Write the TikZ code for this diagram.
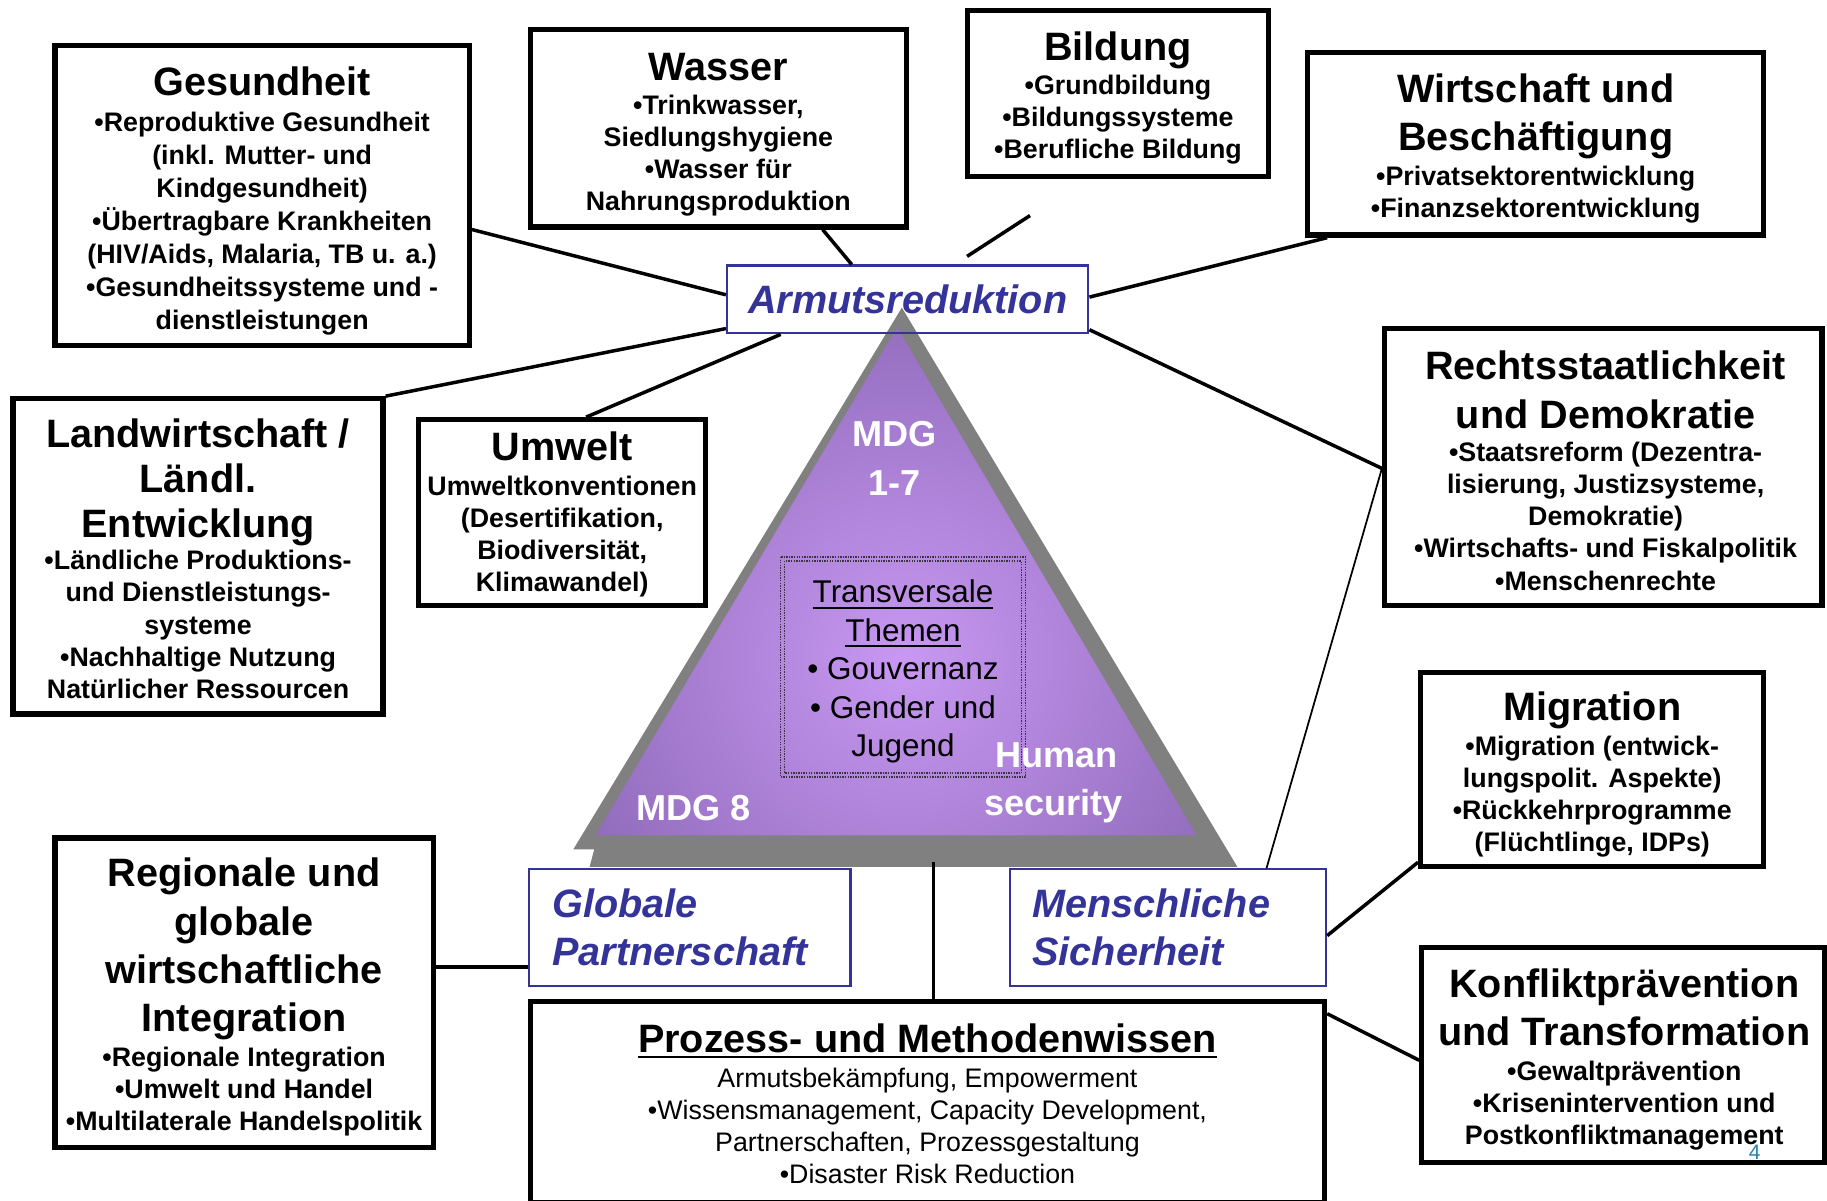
\documentclass[tikz,border=0pt]{standalone}
\usepackage{fontspec}
\setmainfont{Liberation Sans}
\pgfdeclarelayer{bgl}
\pgfdeclarelayer{tril}
\pgfsetlayers{bgl,tril,main}
\definecolor{bluec}{RGB}{51,51,153}
\definecolor{trigray}{RGB}{128,128,128}
\definecolor{triin}{RGB}{200,152,242}
\definecolor{triout}{RGB}{96,68,140}
\definecolor{dotc}{RGB}{60,50,70}
\definecolor{pagec}{RGB}{40,130,170}
\newcommand\ttl{\fontsize{34}{41.5}\selectfont\bfseries}
\newcommand\bdy[1]{\fontsize{23}{#1}\selectfont\bfseries}
\newcommand\uline[1]{\leavevmode\vtop{\hbox{#1}\kern3pt\hrule height 1.8pt}}
\begin{document}
\begin{tikzpicture}[x=1pt,y=-1pt,
  box/.style={draw=black, line width=4.5pt, fill=white, inner sep=0pt},
  bbox/.style={draw=bluec, line width=2pt, inner sep=0pt},
  bluetxt/.style={text=bluec, font=\fontsize{34}{41}\selectfont\bfseries\itshape},
  txt/.style={anchor=base, inner sep=0pt},
  wtxt/.style={anchor=base, inner sep=0pt, text=white, font=\fontsize{31}{36}\selectfont\bfseries},
  link/.style={draw=black, line width=3pt},
  thinlink/.style={draw=black, line width=1.5pt}]
\useasboundingbox (0,0) rectangle (1568,1030);
\begin{pgfonlayer}{bgl}
\fill[white] (0,0) rectangle (1568,1030);
\end{pgfonlayer}

% ---------- triangle ----------
\begin{pgfonlayer}{tril}
\fill[trigray] (774,264) -- (1062,744) -- (506,744) -- (510,729) -- (492,729) -- cycle;
\begin{scope}
\clip (770,281) -- (1027,717) -- (511,717) -- cycle;
\shade[inner color=triin, outer color=triout] (776,565) circle (580pt);
\end{scope}
\end{pgfonlayer}

% ---------- boxes ----------
\node[box, minimum width=355.5, minimum height=257.5] (ges) at (225,168) {};
\node[box, minimum width=322.5, minimum height=169.5] (was) at (616.5,110) {};
\node[box, minimum width=258.5, minimum height=142.5] (bil) at (959.5,80.5) {};
\node[box, minimum width=391.5, minimum height=156.5] (wir) at (1318,123.5) {};
\node[box, minimum width=375.5, minimum height=237.5] (rec) at (1376,401) {};
\node[box, minimum width=317.5, minimum height=270.5] (lan) at (170,477.5) {};
\node[box, minimum width=246.5, minimum height=159.5] (umw) at (482.5,440) {};
\node[box, minimum width=324.5, minimum height=265.5] (reg) at (209.5,852) {};
\node[box, minimum width=294.5, minimum height=166.5] (mig) at (1366.5,660.5) {};
\node[box, minimum width=345.5, minimum height=184.5] (kon) at (1393,905.5) {};
\node[box, minimum width=681.5, minimum height=172.5] (pro) at (796,945.5) {};

\node[bbox, bluetxt, minimum width=310, minimum height=58] (arm) at (779,257) {Armutsreduktion};
\begin{pgfonlayer}{bgl}
\fill[white] (arm.south west) rectangle (arm.north east);
\end{pgfonlayer}
\node[bbox, fill=white, bluetxt, minimum width=276, minimum height=100, text width=236, align=left] (glo) at (592,796) {Globale\\Partnerschaft};
\node[bbox, fill=white, bluetxt, minimum width=271, minimum height=100, text width=233, align=left] (men) at (1002.5,796) {Menschliche\\Sicherheit};

% ---------- box texts ----------
\node[txt] (gesT) at (225,82) {\parbox[t]{350pt}{\centering\ttl Gesundheit\par\vspace{2.7pt}\bdy{28.3pt}•Reproduktive Gesundheit\\(inkl. Mutter- und\\Kindgesundheit)\\•Übertragbare Krankheiten\\(HIV/Aids, Malaria, TB u. a.)\\•Gesundheitssysteme und -\\dienstleistungen}};
\node[txt] (wasT) at (616.5,69) {\parbox[t]{318pt}{\centering\ttl Wasser\par\vspace{1.4pt}\bdy{27.6pt}•Trinkwasser,\\Siedlungshygiene\\•Wasser für\\Nahrungsproduktion}};
\node[txt] (bilT) at (959.5,52) {\parbox[t]{255pt}{\centering\ttl Bildung\par\vspace{1.4pt}\bdy{27.6pt}•Grundbildung\\•Bildungssysteme\\•Berufliche Bildung}};
\node[txt] (wirT) at (1318,88) {\parbox[t]{388pt}{\centering\ttl Wirtschaft und\\Beschäftigung\par\vspace{1.9pt}\bdy{27.6pt}•Privatsektorentwicklung\\•Finanzsektorentwicklung}};
\node[txt] (recT) at (1378,326) {\parbox[t]{372pt}{\centering\ttl Rechtsstaatlichkeit\\und Demokratie\par\vspace{0.9pt}\bdy{27.6pt}•Staatsreform (Dezentra-\\lisierung, Justizsysteme,\\Demokratie)\\•Wirtschafts- und Fiskalpolitik\\•Menschenrechte}};
\node[txt] (lanT) at (170,384) {\parbox[t]{314pt}{\centering\fontsize{34}{38.5}\selectfont\bfseries Landwirtschaft /\\Ländl.\\Entwicklung\par\vspace{0.4pt}\bdy{27.6pt}•Ländliche Produktions-\\und Dienstleistungs-\\systeme\\•Nachhaltige Nutzung\\Natürlicher Ressourcen}};
\node[txt] (umwT) at (482.5,395) {\parbox[t]{244pt}{\centering\ttl Umwelt\par\vspace{2.4pt}\bdy{27.6pt}Umweltkonventionen\\(Desertifikation,\\Biodiversität,\\Klimawandel)}};
\node[txt] (regT) at (209.5,761) {\parbox[t]{322pt}{\centering\ttl Regionale und\\globale\\wirtschaftliche\\Integration\par\vspace{1.9pt}\bdy{27.6pt}•Regionale Integration\\•Umwelt und Handel\\•Multilaterale Handelspolitik}};
\node[txt] (migT) at (1366.5,618) {\parbox[t]{292pt}{\centering\ttl Migration\par\vspace{2.4pt}\bdy{27.6pt}•Migration (entwick-\\lungspolit. Aspekte)\\•Rückkehrprogramme\\(Flüchtlinge, IDPs)}};
\node[txt] (konT) at (1394,856) {\parbox[t]{342pt}{\centering\ttl Konfliktprävention\\und Transformation\par\vspace{1.9pt}\bdy{27.6pt}•Gewaltprävention\\•Krisenintervention und\\Postkonfliktmanagement}};
\node[txt] (proT) at (796,903) {\parbox[t]{670pt}{\centering\ttl\uline{Prozess- und Methodenwissen}\par\vspace{2.4pt}\fontsize{23}{27.6}\selectfont\mdseries Armutsbekämpfung, Empowerment\\•Wissensmanagement, Capacity Development,\\Partnerschaften, Prozessgestaltung\\•Disaster Risk Reduction}};

% ---------- triangle contents ----------
\draw[dotc, line width=1.2pt, densely dotted] (670,478) rectangle (880,667);
\draw[dotc, line width=1.2pt, densely dotted] (673.5,481.5) rectangle (876.5,663.5);
\node[txt] (them) at (775,517.5) {\parbox[t]{205pt}{\centering\fontsize{27}{33}\selectfont\uline{Transversale}\\\uline{Themen}\\• Gouvernanz\\• Gender und\\Jugend}};
\node[wtxt] (mdga) at (768,383) {MDG};
\node[wtxt] (mdgb) at (768,425) {1-7};
\node[wtxt] (mdgc) at (595,704) {MDG 8};
\node[wtxt] (huma) at (907,659) {Human};
\node[wtxt] (humb) at (904,700) {security};

% ---------- connectors ----------
\draw[link] (ges.east |- 0,197) -- (arm.west |- 0,253);
\draw[link] (706,0 |- was.south) -- (731,0 |- arm.north);
\coordinate (bla) at (884,185);
\coordinate (blb) at (830,220);
\draw[link] (bla) -- (blb);
\draw[link] (1139,0 |- wir.south) -- (arm.east |- 0,255);
\draw[link] (lan.north east) -- (arm.west |- 0,282);
\draw[link] (503,0 |- umw.north) -- (670,0 |- arm.south);
\draw[link] (arm.east |- 0,283) -- (rec.west |- 0,402);
\draw[thinlink] (rec.west |- 0,402) -- (1087,0 |- men.north);
\draw[link] (reg.east |- 0,830) -- (glo.west |- 0,830);
\coordinate (trib) at (801,740);
\draw[link] (trib) -- (trib |- pro.north);
\draw[link] (men.east |- 0,803) -- (mig.west |- 0,740);
\draw[link] (pro.east |- 0,870) -- (kon.west |- 0,910);

\node[anchor=base, inner sep=0pt, text=pagec, font=\fontsize{18}{20}\selectfont] (pg) at (1506,995) {4};
\end{tikzpicture}
\end{document}
